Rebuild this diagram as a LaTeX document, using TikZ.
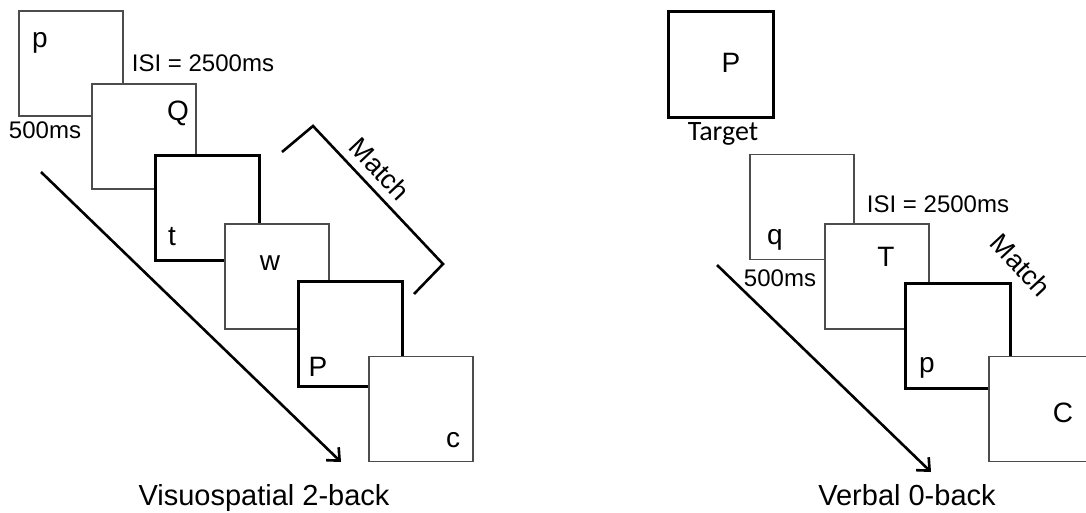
\documentclass[tikz,border=0pt]{standalone}
\usepackage{fontspec}
\setmainfont{Liberation Sans}
\newfontfamily\calfont{Carlito}
\usetikzlibrary{arrows.meta}
\begin{document}
\begin{tikzpicture}[x=1pt,y=-1pt,
  thinbox/.style={draw=black!70,line width=1.2pt,fill=white,minimum width=104pt,minimum height=105pt,inner sep=0pt},
  thickbox/.style={draw=black,line width=3pt,fill=white,minimum width=104pt,minimum height=105pt,inner sep=0pt},
  letter/.style={inner sep=0pt,font=\fontsize{28}{30}\selectfont},
  lbl/.style={inner sep=0pt,font=\fontsize{24}{26}\selectfont},
  ttl/.style={inner sep=0pt,font=\fontsize{29}{31}\selectfont,anchor=base},
  matchlbl/.style={inner sep=0pt,font=\fontsize{27}{29}\selectfont},
  timearrow/.style={line width=2.6pt,-{Straight Barb[length=10pt,width=18pt,line width=2.6pt]}}]
\useasboundingbox (0,0) rectangle (1086,512);
\clip (0,0) rectangle (1086,512);
% ---------- left panel ----------
\node[thinbox] (b1) at (71,63.5) {};
\node[thinbox] (b2) at (144,136.5) {};
\node[thickbox] (b3) at (207,207.5) {};
\node[thinbox] (b4) at (277,276.5) {};
\node[thickbox] (b5) at (350,333.5) {};
\node[thinbox] (b6) at (421,409) {};
\node[letter] (l1) at (40,43) {p};
\node[letter] (l2) at (178,113) {Q};
\node[letter] (l3) at (172,237) {t};
\node[letter] (l4) at (270,263) {w};
\node[letter] (l5) at (318,367) {P};
\node[letter] (l6) at (453,440) {c};
\node[lbl] (isiL) at (203,63) {ISI = 2500ms};
\node[lbl] (msL) at (45,130) {500ms};
\coordinate (aL1) at (41,172);
\coordinate (aL2) at (341,462);
\draw[timearrow] (aL1) -- (aL2);
\coordinate (br1) at (282,152);
\coordinate (br2) at (313,126);
\coordinate (br3) at (443,264);
\coordinate (br4) at (414,294);
\draw[line width=2.6pt] (br1) -- (br2) -- (br3) -- (br4);
\node[matchlbl,rotate=-46.5] (mL) at (380,169) {Match};
\node[ttl] (tL) at (264,505) {Visuospatial 2-back};
% ---------- right panel ----------
\node[thickbox,minimum width=105pt,minimum height=106pt] (tg) at (720.5,64) {};
\node[letter] (tgl) at (731,63) {P};
\node[inner sep=0pt,font=\calfont\fontsize{28}{30}\selectfont,anchor=base] (tgt) at (723,140) {Target};
\node[thinbox] (r1) at (802,207) {};
\node[thinbox] (r2) at (877,276.5) {};
\node[thickbox,minimum width=105pt] (r3) at (957.5,335.5) {};
\node[thinbox] (r4) at (1041,409) {};
\node[letter] (k1) at (775,240) {q};
\node[letter] (k2) at (886,257) {T};
\node[letter] (k3) at (927,368) {p};
\node[letter] (k4) at (1063,413) {C};
\node[lbl] (isiR) at (938,204) {ISI = 2500ms};
\node[lbl] (msR) at (780,278) {500ms};
\coordinate (aR1) at (717,265);
\coordinate (aR2) at (931,472);
\draw[timearrow] (aR1) -- (aR2);
\node[matchlbl,rotate=-47] (mR) at (1021,265) {Match};
\node[ttl] (tR) at (907,505) {Verbal 0-back};
\end{tikzpicture}
\end{document}
